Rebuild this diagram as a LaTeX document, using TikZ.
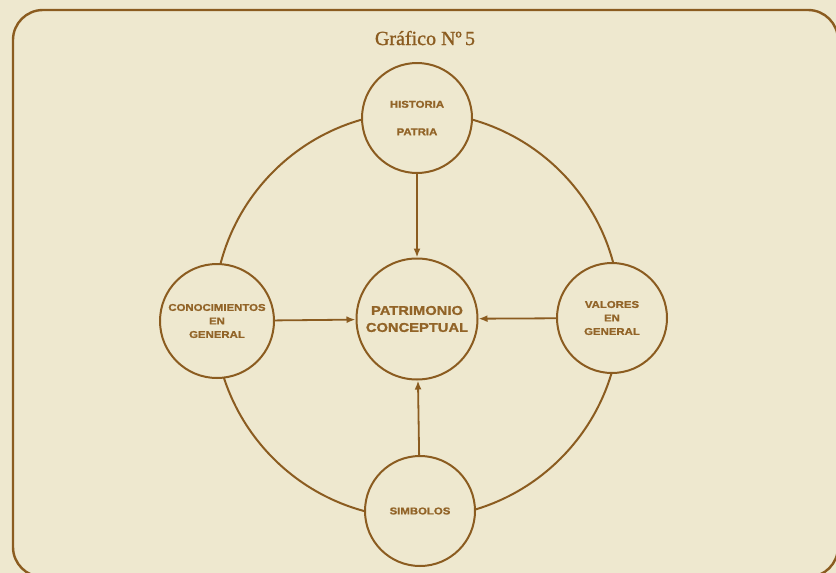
\documentclass[tikz,border=0pt]{standalone}
\usepackage{fontspec}
\setmainfont{Liberation Serif}
\newfontfamily\titlefont[FakeBold=1.2]{Liberation Serif}
\newfontfamily\nodefont[FakeStretch=1.15,FakeBold=1.2]{Liberation Sans Bold}
\usetikzlibrary{arrows.meta}
\definecolor{paper}{RGB}{238,232,207}
\definecolor{ink}{RGB}{139,92,32}
\definecolor{txt}{RGB}{146,100,40}
\begin{document}
\begin{tikzpicture}[x=1pt,y=-1pt,
  bubble/.style={circle,draw=ink,fill=paper,line width=2pt,minimum size=110pt,inner sep=0pt,align=center,text=txt,font=\nodefont\fontsize{9.9}{13.5}\selectfont},
  link/.style={draw=ink,line width=1.8pt,-{Latex[length=9pt,width=7pt]}}]
\fill[paper] (0,0) rectangle (836,573);
\useasboundingbox (0,0) rectangle (836,573);
\begin{scope}
\clip (0,0) rectangle (836,573);
\draw[ink,line width=2.4pt,rounded corners=30pt] (13,10) rectangle (838,577);
\end{scope}
\node[text=ink,font=\titlefont\fontsize{20}{24}\selectfont,anchor=base] (title) at (425,45) {Gráfico Nº\,5};
\draw[ink,line width=2pt] (417,315) circle[radius=203];
\node[bubble] (top) at (417,118) {HISTORIA\\[14pt]PATRIA};
\node[bubble,minimum size=114pt] (left) at (217,321) {CONOCIMIENTOS\\EN\\GENERAL};
\node[bubble] (right) at (612,318) {VALORES\\EN\\GENERAL};
\node[bubble] (bottom) at (420,511) {SIMBOLOS};
\node[bubble,minimum size=121pt,font=\nodefont\fontsize{12.8}{17}\selectfont] (center) at (417,319) {PATRIMONIO\\CONCEPTUAL};
\draw[link] (top) -- (center);
\draw[link] (left) -- (center);
\draw[link] (right) -- (center);
\draw[link] (bottom) -- (center);
\end{tikzpicture}
\end{document}
